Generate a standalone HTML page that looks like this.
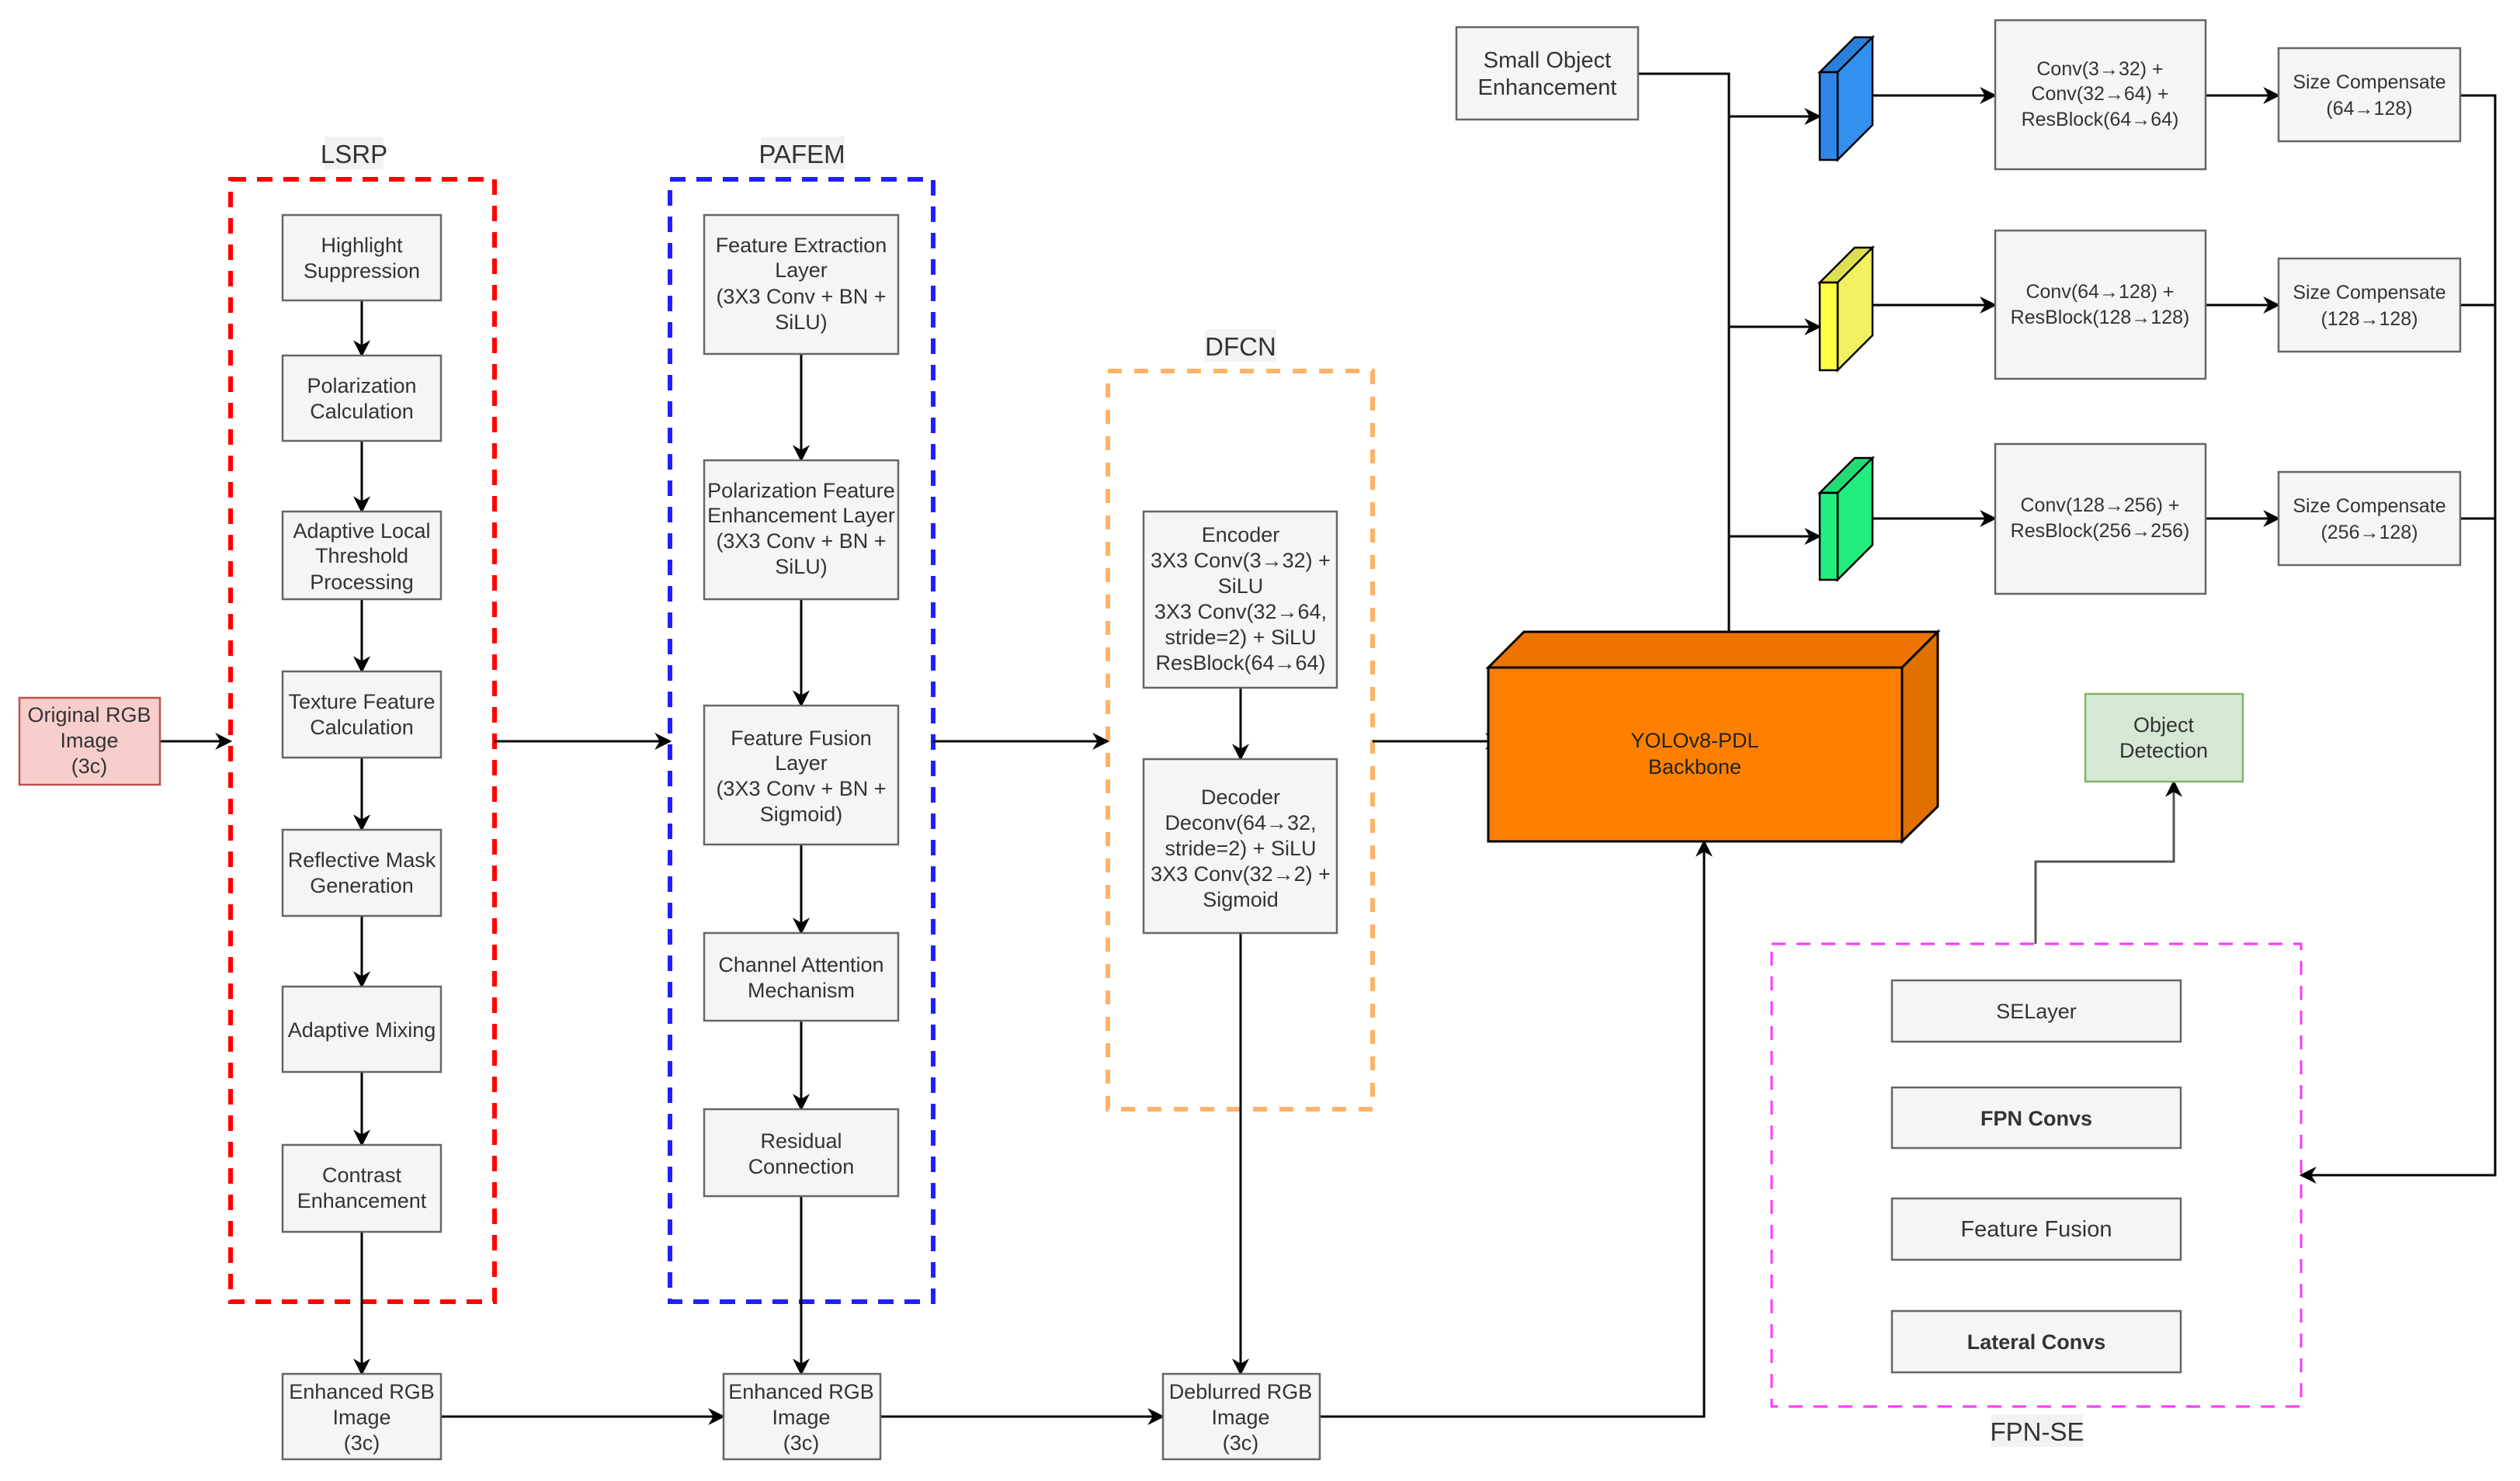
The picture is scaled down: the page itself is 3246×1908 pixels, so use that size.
<!DOCTYPE html>
<html><head><meta charset="utf-8"><style>
html,body{margin:0;padding:0;background:#fff;}
svg text{font-family:"Liberation Sans","DejaVu Sans",sans-serif;fill:#333;}
</style></head><body>
<svg width="3246" height="1903" viewBox="0 0 3246 1903" xmlns="http://www.w3.org/2000/svg">
<defs>
<marker id="a" viewBox="0 0 10 10" refX="9" refY="5" markerWidth="9" markerHeight="9" markerUnits="userSpaceOnUse" orient="auto"><path d="M0,0 L10,5 L0,10 L3,5 Z" fill="#000"/></marker>
<marker id="b" viewBox="0 0 10 10" refX="9" refY="5" markerWidth="22" markerHeight="22" markerUnits="userSpaceOnUse" orient="auto"><path d="M0,0 L10,5 L0,10 L3,5 Z" fill="#000"/></marker>
</defs>
<g font-size="27" text-anchor="middle">

<!-- group labels -->
<rect x="418" y="176" width="76" height="42" fill="#f2f2f2"/>
<text x="456" y="210" font-size="33">LSRP</text>
<rect x="980" y="176" width="108" height="42" fill="#f2f2f2"/>
<text x="1033" y="210" font-size="33">PAFEM</text>
<rect x="1552" y="424" width="92" height="42" fill="#f2f2f2"/>
<text x="1598" y="458" font-size="33">DFCN</text>
<rect x="2565" y="1822" width="118" height="42" fill="#f2f2f2"/>
<text x="2624" y="1856" font-size="33">FPN-SE</text>

<!-- dashed containers -->
<rect x="297" y="231" width="340" height="1446" fill="none" stroke="#ff0000" stroke-width="6" stroke-dasharray="20,14"/>
<rect x="863" y="231" width="339" height="1446" fill="none" stroke="#2020ff" stroke-width="6" stroke-dasharray="20,14"/>
<rect x="1427" y="478" width="341" height="951" fill="none" stroke="#ffb366" stroke-width="6" stroke-dasharray="18,16"/>
<rect x="2282" y="1216" width="682" height="596" fill="none" stroke="#ff33ff" stroke-width="3" stroke-dasharray="18,14"/>

<!-- connectors -->
<g stroke="#000" stroke-width="3" fill="none">
<line x1="206" y1="955" x2="297" y2="955" marker-end="url(#b)"/>
<line x1="637" y1="955" x2="863" y2="955" marker-end="url(#b)"/>
<line x1="1202" y1="955" x2="1427" y2="955" marker-end="url(#b)"/>
<line x1="1768" y1="955" x2="1933" y2="955" marker-end="url(#b)"/>
<line x1="466" y1="387" x2="466" y2="458" marker-end="url(#b)"/>
<line x1="466" y1="568" x2="466" y2="659" marker-end="url(#b)"/>
<line x1="466" y1="772" x2="466" y2="865" marker-end="url(#b)"/>
<line x1="466" y1="976" x2="466" y2="1069" marker-end="url(#b)"/>
<line x1="466" y1="1180" x2="466" y2="1271" marker-end="url(#b)"/>
<line x1="466" y1="1381" x2="466" y2="1475" marker-end="url(#b)"/>
<line x1="466" y1="1587" x2="466" y2="1770" marker-end="url(#b)"/>
<line x1="1032" y1="456" x2="1032" y2="593" marker-end="url(#b)"/>
<line x1="1032" y1="772" x2="1032" y2="909" marker-end="url(#b)"/>
<line x1="1032" y1="1088" x2="1032" y2="1202" marker-end="url(#b)"/>
<line x1="1032" y1="1315" x2="1032" y2="1429" marker-end="url(#b)"/>
<line x1="1032" y1="1541" x2="1032" y2="1770" marker-end="url(#b)"/>
<line x1="1598" y1="886" x2="1598" y2="978" marker-end="url(#b)"/>
<line x1="1598" y1="1202" x2="1598" y2="1770" marker-end="url(#b)"/>
<line x1="568" y1="1825" x2="932" y2="1825" marker-end="url(#b)"/>
<line x1="1134" y1="1825" x2="1498" y2="1825" marker-end="url(#b)"/>
<polyline points="1700,1825 2195,1825 2195,1084" marker-end="url(#b)"/>
<!-- backbone to cubes -->
<polyline points="2110,95 2227,95 2227,814"/>
<line x1="2227" y1="150" x2="2344" y2="150" marker-end="url(#b)"/>
<line x1="2227" y1="421" x2="2344" y2="421" marker-end="url(#b)"/>
<line x1="2227" y1="691" x2="2344" y2="691" marker-end="url(#b)"/>
<line x1="2412" y1="123" x2="2570" y2="123" marker-end="url(#b)"/>
<line x1="2412" y1="393" x2="2570" y2="393" marker-end="url(#b)"/>
<line x1="2412" y1="668" x2="2570" y2="668" marker-end="url(#b)"/>
<line x1="2841" y1="123" x2="2935" y2="123" marker-end="url(#b)"/>
<line x1="2841" y1="393" x2="2935" y2="393" marker-end="url(#b)"/>
<line x1="2841" y1="668" x2="2935" y2="668" marker-end="url(#b)"/>
<polyline points="3169,123 3214,123 3214,1514 2964,1514" marker-end="url(#b)"/>
<line x1="3169" y1="393" x2="3214" y2="393"/>
<line x1="3169" y1="668" x2="3214" y2="668"/>
<polyline points="2622,1216 2622,1110 2800,1110 2800,1007" stroke="#555" marker-end="url(#b)"/>
</g>

<!-- Original -->
<rect x="25" y="899" width="181" height="112" fill="#f8cecc" stroke="#b85450" stroke-width="2.5"/>
<text x="115" y="930">Original RGB</text><text x="115" y="963">Image</text><text x="115" y="996">(3c)</text>

<g fill="#f5f5f5" stroke="#666" stroke-width="2.5">
<rect x="364" y="277" width="204" height="110"/>
<rect x="364" y="458" width="204" height="110"/>
<rect x="364" y="659" width="204" height="113"/>
<rect x="364" y="865" width="204" height="111"/>
<rect x="364" y="1069" width="204" height="111"/>
<rect x="364" y="1271" width="204" height="110"/>
<rect x="364" y="1475" width="204" height="112"/>
<rect x="364" y="1770" width="204" height="110"/>
<rect x="907" y="277" width="250" height="179"/>
<rect x="907" y="593" width="250" height="179"/>
<rect x="907" y="909" width="250" height="179"/>
<rect x="907" y="1202" width="250" height="113"/>
<rect x="907" y="1429" width="250" height="112"/>
<rect x="932" y="1770" width="202" height="110"/>
<rect x="1473" y="659" width="249" height="227"/>
<rect x="1473" y="978" width="249" height="224"/>
<rect x="1498" y="1770" width="202" height="110"/>
<rect x="1876" y="35" width="234" height="119"/>
<rect x="2570" y="26" width="271" height="192"/>
<rect x="2570" y="297" width="271" height="191"/>
<rect x="2570" y="572" width="271" height="193"/>
<rect x="2935" y="62" width="234" height="120"/>
<rect x="2935" y="333" width="234" height="120"/>
<rect x="2935" y="608" width="234" height="120"/>
<rect x="2437" y="1263" width="372" height="79"/>
<rect x="2437" y="1401" width="372" height="78"/>
<rect x="2437" y="1544" width="372" height="79"/>
<rect x="2437" y="1689" width="372" height="79"/>
</g>

<text x="466" y="325">Highlight</text><text x="466" y="358">Suppression</text>
<text x="466" y="506">Polarization</text><text x="466" y="539">Calculation</text>
<text x="466" y="693">Adaptive Local</text><text x="466" y="725">Threshold</text><text x="466" y="759">Processing</text>
<text x="466" y="913">Texture Feature</text><text x="466" y="946">Calculation</text>
<text x="466" y="1117">Reflective Mask</text><text x="466" y="1150">Generation</text>
<text x="466" y="1336">Adaptive Mixing</text>
<text x="466" y="1523">Contrast</text><text x="466" y="1556">Enhancement</text>
<text x="466" y="1802">Enhanced RGB</text><text x="466" y="1835">Image</text><text x="466" y="1868">(3c)</text>

<text x="1032" y="325">Feature Extraction</text><text x="1032" y="357">Layer</text><text x="1032" y="391">(3X3 Conv + BN +</text><text x="1032" y="424">SiLU)</text>
<text x="1032" y="641">Polarization Feature</text><text x="1032" y="673">Enhancement Layer</text><text x="1032" y="706">(3X3 Conv + BN +</text><text x="1032" y="739">SiLU)</text>
<text x="1032" y="960">Feature Fusion</text><text x="1032" y="992">Layer</text><text x="1032" y="1025">(3X3 Conv + BN +</text><text x="1032" y="1058">Sigmoid)</text>
<text x="1032" y="1252">Channel Attention</text><text x="1032" y="1285">Mechanism</text>
<text x="1032" y="1479">Residual</text><text x="1032" y="1512">Connection</text>
<text x="1032" y="1802">Enhanced RGB</text><text x="1032" y="1835">Image</text><text x="1032" y="1868">(3c)</text>

<text x="1598" y="698">Encoder</text><text x="1598" y="731">3X3 Conv(3→32) +</text><text x="1598" y="764">SiLU</text><text x="1598" y="797">3X3 Conv(32→64,</text><text x="1598" y="830">stride=2) + SiLU</text><text x="1598" y="863">ResBlock(64→64)</text>
<text x="1598" y="1036">Decoder</text><text x="1598" y="1069">Deconv(64→32,</text><text x="1598" y="1102">stride=2) + SiLU</text><text x="1598" y="1135">3X3 Conv(32→2) +</text><text x="1598" y="1168">Sigmoid</text>
<text x="1598" y="1802">Deblurred RGB</text><text x="1598" y="1835">Image</text><text x="1598" y="1868">(3c)</text>

<text x="1993" y="87" font-size="29">Small Object</text><text x="1993" y="122" font-size="29">Enhancement</text>

<!-- Backbone 3D -->
<polygon points="1917,860 1963,814 2496,814 2450,860" fill="#ed7400" stroke="#000" stroke-width="3"/>
<polygon points="2450,860 2496,814 2496,1039 2450,1084" fill="#e07000" stroke="#000" stroke-width="3"/>
<rect x="1917" y="860" width="533" height="224" fill="#ff8000" stroke="#000" stroke-width="3"/>
<text x="2183" y="963" fill="#000" style="fill:#222">YOLOv8-PDL</text><text x="2183" y="997" style="fill:#222">Backbone</text>

<!-- cubes -->
<polygon points="2344,93 2389,48 2412,48 2367,93" fill="#2a7fd8" stroke="#000" stroke-width="2.5"/>
<polygon points="2367,93 2412,48 2412,161 2367,206" fill="#3390ee" stroke="#000" stroke-width="2.5"/>
<rect x="2344" y="93" width="23" height="113" fill="#2f86e8" stroke="#000" stroke-width="2.5"/>
<polygon points="2344,364 2389,319 2412,319 2367,364" fill="#dede55" stroke="#000" stroke-width="2.5"/>
<polygon points="2367,364 2412,319 2412,432 2367,477" fill="#f0f060" stroke="#000" stroke-width="2.5"/>
<rect x="2344" y="364" width="23" height="113" fill="#ffff44" stroke="#000" stroke-width="2.5"/>
<polygon points="2344,635 2389,590 2412,590 2367,635" fill="#22dd77" stroke="#000" stroke-width="2.5"/>
<polygon points="2367,635 2412,590 2412,702 2367,747" fill="#22ee7f" stroke="#000" stroke-width="2.5"/>
<rect x="2344" y="635" width="23" height="112" fill="#22ee80" stroke="#000" stroke-width="2.5"/>

<g font-size="25">
<text x="2705" y="97">Conv(3→32) +</text><text x="2705" y="129">Conv(32→64) +</text><text x="2705" y="162">ResBlock(64→64)</text>
<text x="2705" y="384">Conv(64→128) +</text><text x="2705" y="417">ResBlock(128→128)</text>
<text x="2705" y="659">Conv(128→256) +</text><text x="2705" y="692">ResBlock(256→256)</text>
<text x="3052" y="114">Size Compensate</text><text x="3052" y="148">(64→128)</text>
<text x="3052" y="385">Size Compensate</text><text x="3052" y="419">(128→128)</text>
<text x="3052" y="660">Size Compensate</text><text x="3052" y="694">(256→128)</text>
</g>

<rect x="2686" y="894" width="203" height="113" fill="#d5e8d4" stroke="#82b366" stroke-width="2.5"/>
<text x="2787" y="943">Object</text><text x="2787" y="976">Detection</text>

<text x="2623" y="1312">SELayer</text>
<text x="2623" y="1450" font-weight="bold">FPN Convs</text>
<text x="2623" y="1593" font-size="29">Feature Fusion</text>
<text x="2623" y="1738" font-weight="bold">Lateral Convs</text>
</g>
</svg>
</body></html>
